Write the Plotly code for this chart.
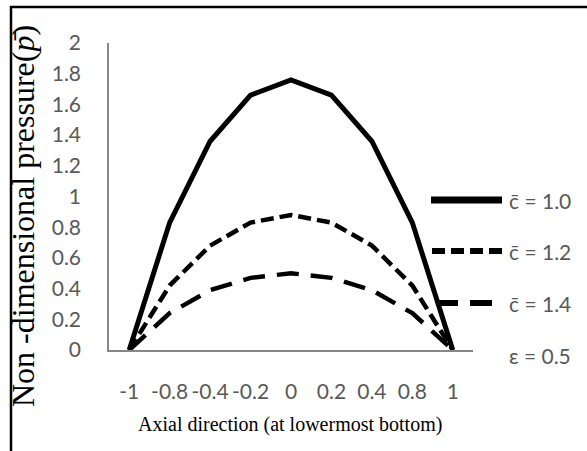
import plotly.graph_objects as go

# Axial positions (categorical) and non-dimensional pressure for each clearance ratio
axial = ["-1", "-0.8", "-0.4", "-0.2", "0", "0.2", "0.4", "0.8", "1"]
p_c10 = [0, 0.83, 1.36, 1.66, 1.76, 1.66, 1.36, 0.83, 0]
p_c12 = [0, 0.42, 0.68, 0.83, 0.88, 0.83, 0.68, 0.42, 0]
p_c14 = [0, 0.24, 0.39, 0.47, 0.50, 0.47, 0.39, 0.24, 0]

series_names = ["c\u0304 = 1.0", "c\u0304 = 1.2", "c\u0304 = 1.4"]
series_dash = ["solid", "13px,6px", "22px,12px"]
ecc_label = "\u03b5 = 0.5"

TICK_FONT = dict(family="Lato, Open Sans, sans-serif", size=21, color="#595959")
SERIF = "Liberation Serif, Times New Roman, serif"

fig = go.Figure()
for vals, name, dash in zip([p_c10, p_c12, p_c14], series_names, series_dash):
    fig.add_trace(go.Scatter(
        x=axial, y=vals, mode="lines", name=name,
        line=dict(color="black", width=5 if dash == "solid" else 4.5, dash=dash),
        showlegend=False,
    ))

# Plot-area edges in pixels, used to place the hand-drawn legend and titles
W, H = 587, 451
L, R, T, B = 109, 473, 43, 350
def px(xp):
    return (xp - L) / (R - L)
def py(yp):
    return (B - yp) / (B - T)

shapes = []
annotations = []
legend_rows = [(200, 431, 502), (251, 432, 502), (303, 436, 494)]
for (yc, x0, x1), name, dash in zip(legend_rows, series_names, series_dash):
    shapes.append(dict(type="line", xref="paper", yref="paper",
                       x0=px(x0), x1=px(x1), y0=py(yc), y1=py(yc),
                       line=dict(color="black", width=7 if dash == "solid" else 6,
                                 dash=dash)))
    annotations.append(dict(text=name, xref="paper", yref="paper",
                            x=px(507), y=py(yc), xanchor="left", yanchor="middle",
                            showarrow=False, font=TICK_FONT))
annotations.append(dict(text=ecc_label, xref="paper", yref="paper",
                        x=px(507), y=py(355), xanchor="left", yanchor="middle",
                        showarrow=False, font=TICK_FONT))

# Y-axis title
annotations.append(dict(text="Non -dimensional pressure(<i>p</i>\u0304)",
                        xref="paper", yref="paper", x=px(23), y=py(216),
                        xanchor="center", yanchor="middle", textangle=-90,
                        showarrow=False,
                        font=dict(family=SERIF, size=32, color="black")))
# X-axis title
annotations.append(dict(text="Axial direction (at lowermost bottom)",
                        xref="paper", yref="paper", x=px(290), y=py(424),
                        xanchor="center", yanchor="middle", showarrow=False,
                        font=dict(family=SERIF, size=20, color="black")))

# Outer frame: left and top edges
shapes.append(dict(type="line", xref="paper", yref="paper",
                   x0=px(11), x1=px(11), y0=py(H), y1=py(6),
                   line=dict(color="black", width=2.5)))
shapes.append(dict(type="line", xref="paper", yref="paper",
                   x0=px(10), x1=px(W), y0=py(7), y1=py(7),
                   line=dict(color="black", width=2.5)))

fig.update_layout(
    width=W, height=H,
    margin=dict(l=L, r=W - R, t=T, b=H - B),
    paper_bgcolor="white", plot_bgcolor="white",
    shapes=shapes, annotations=annotations,
    xaxis=dict(type="category", range=[-0.5, 8.5], showgrid=False,
               showline=True, linecolor="#868686", linewidth=1.5,
               ticks="", ticklabelstandoff=22, tickfont=TICK_FONT,
               zeroline=False),
    yaxis=dict(range=[0, 2], dtick=0.2, showgrid=False,
               showline=True, linecolor="#868686", linewidth=1.5,
               ticks="", ticklabelstandoff=22, tickfont=TICK_FONT,
               zeroline=False, tickformat="~g"),
)

fig.write_html("out.html")
